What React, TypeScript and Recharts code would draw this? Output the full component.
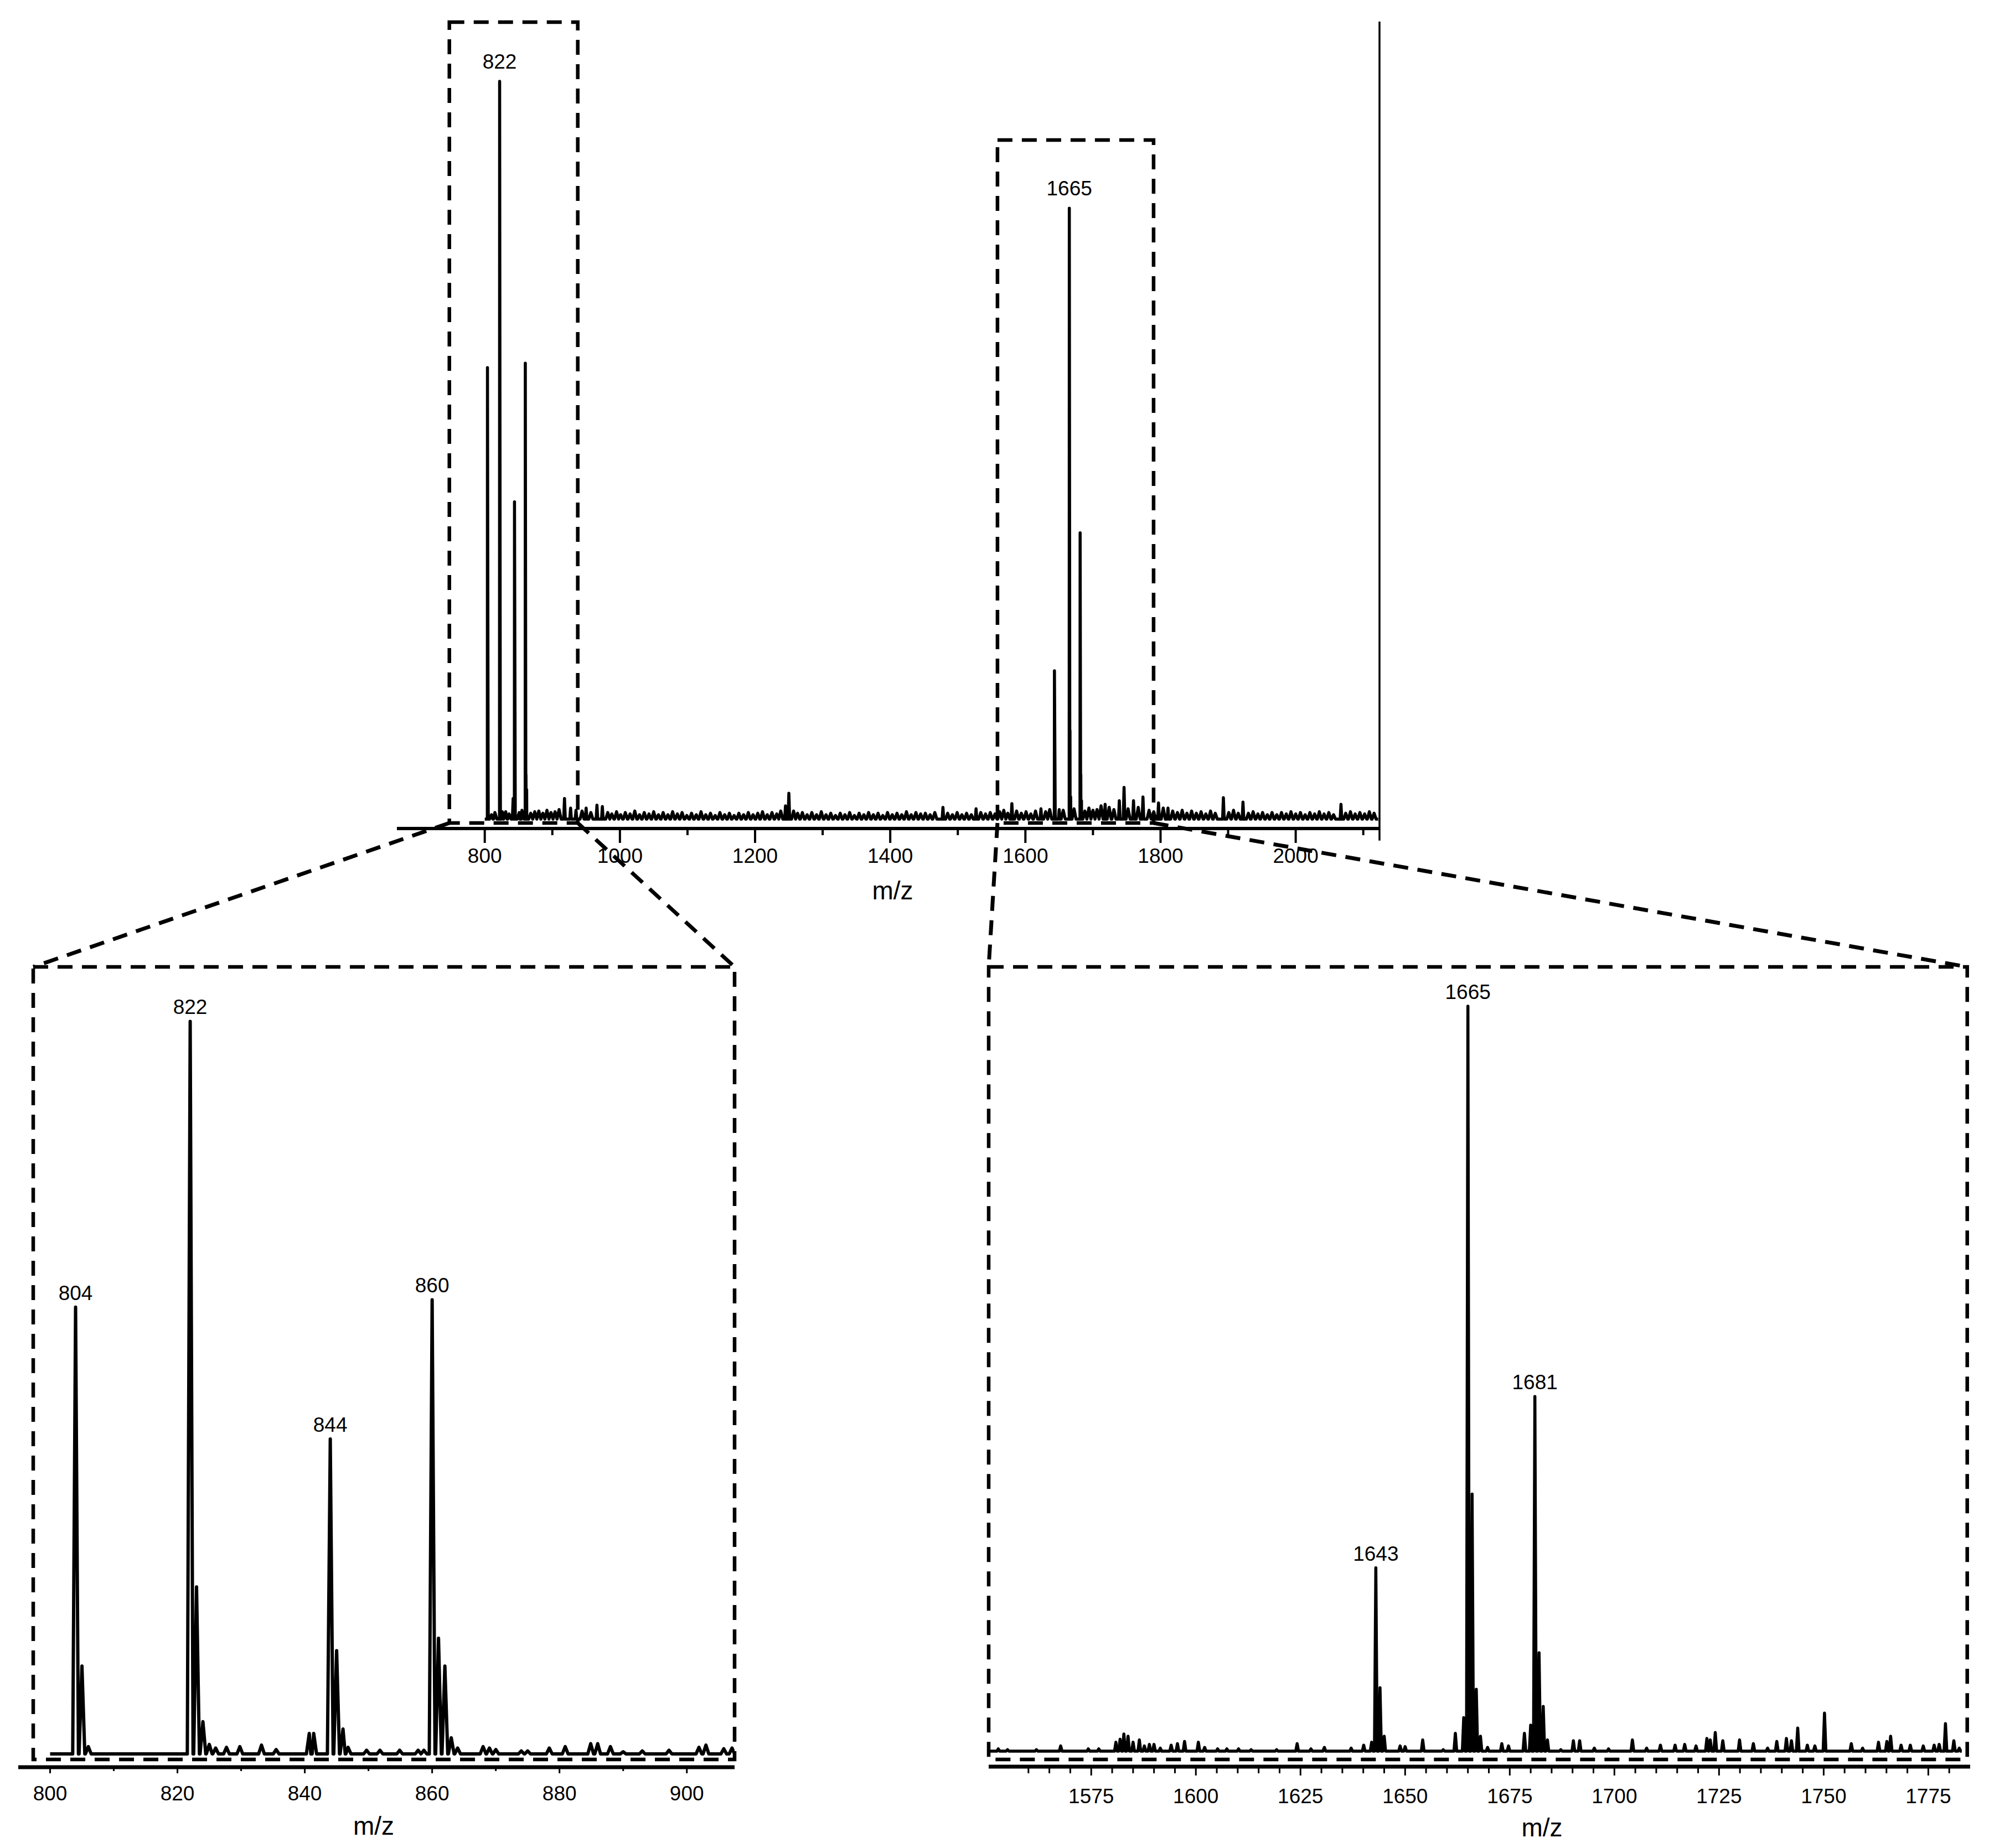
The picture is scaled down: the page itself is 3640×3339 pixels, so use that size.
import React from 'react';
import { LineChart, Line, XAxis, YAxis, ReferenceArea, ReferenceDot, ReferenceLine } from 'recharts';

const FONT = '"Liberation Sans", Arial, Helvetica, sans-serif';

// full scan, relative intensity (822 = 100)
const overviewPeaks: [number, number][] = [
  [804, 61.2], [805, 5.0], [822, 100], [823, 8.0], [826, 1.0], [842, 2.8], [844, 43.0], [845, 5.0],
  [860, 61.8], [861, 6.0], [862, 4.0], [918, 2.8], [927, 1.5], [935, 1.2], [950, 1.5], [966, 1.9],
  [974, 1.7], [1245, 1.8], [1250, 3.5], [1478, 1.6], [1527, 1.4], [1580, 2.1], [1623, 1.4],
  [1643, 20.1], [1644, 3.0], [1650, 1.3], [1665, 82.8], [1666, 12.0], [1667, 3.0], [1681, 38.8],
  [1682, 6.0], [1683, 2.5], [1718, 2.0], [1739, 2.5], [1746, 4.3], [1760, 2.5], [1774, 3.0],
  [1797, 2.2], [1811, 1.5], [1893, 2.9], [1922, 2.3], [2067, 2.0],
];
const overviewNoise: [number, number][] = [
  [810, 0.6], [815, 0.9], [831, 1.0], [836, 0.7], [851, 0.9], [855, 1.2], [868, 0.8], [874, 1.0],
  [880, 1.1], [886, 0.8], [892, 1.2], [898, 0.9], [904, 1.0], [910, 1.3], [944, 1.1], [957, 0.9],
  [982, 0.9], [988, 0.7], [995, 1.0], [1001, 0.6], [1008, 0.9], [1015, 0.7], [1022, 1.1], [1029, 0.6],
  [1036, 0.9], [1043, 0.7], [1050, 1.0], [1057, 0.6], [1064, 0.9], [1071, 0.6], [1078, 1.0], [1085, 0.7],
  [1092, 0.9], [1099, 0.5], [1106, 0.8], [1113, 0.6], [1120, 1.0], [1127, 0.6], [1134, 0.8], [1141, 0.5],
  [1148, 0.9], [1155, 0.6], [1162, 0.8], [1169, 0.5], [1176, 0.8], [1183, 0.6], [1190, 0.9], [1197, 0.6],
  [1204, 0.8], [1211, 1.0], [1218, 0.6], [1225, 0.9], [1232, 0.7], [1238, 1.1], [1257, 1.1], [1263, 0.8],
  [1270, 0.9], [1277, 0.6], [1284, 0.9], [1291, 0.6], [1298, 1.0], [1305, 0.6], [1312, 0.8], [1319, 0.5],
  [1326, 0.8], [1333, 0.6], [1340, 0.9], [1347, 0.5], [1354, 0.8], [1361, 0.6], [1368, 0.9], [1375, 0.6],
  [1382, 0.8], [1389, 0.5], [1396, 0.9], [1403, 0.6], [1410, 0.8], [1417, 0.6], [1424, 1.0], [1431, 0.6],
  [1438, 0.9], [1445, 0.7], [1452, 0.8], [1459, 0.6], [1466, 0.9], [1485, 0.8], [1492, 0.6], [1499, 0.9],
  [1506, 0.6], [1513, 0.8], [1520, 0.6], [1534, 0.9], [1541, 0.7], [1548, 0.9], [1555, 0.7], [1562, 1.0],
  [1568, 1.2], [1574, 0.8], [1587, 1.1], [1594, 0.8], [1601, 1.0], [1608, 0.7], [1615, 1.1], [1630, 1.0],
  [1636, 1.3], [1656, 1.2], [1672, 1.4], [1688, 1.1], [1694, 1.5], [1700, 1.2], [1706, 1.3], [1712, 1.8],
  [1724, 1.6], [1731, 1.3], [1752, 1.4], [1767, 1.6], [1783, 1.2], [1790, 1.0], [1804, 1.5], [1818, 1.1],
  [1825, 0.9], [1832, 1.2], [1839, 0.8], [1846, 1.1], [1853, 0.8], [1860, 1.0], [1867, 0.7], [1874, 1.1],
  [1881, 0.8], [1901, 0.9], [1908, 1.2], [1915, 0.8], [1930, 0.8], [1937, 1.0], [1944, 0.7], [1951, 0.9],
  [1958, 0.6], [1965, 0.9], [1972, 0.6], [1979, 0.9], [1986, 0.7], [1993, 1.0], [2000, 0.7], [2007, 0.9],
  [2014, 0.6], [2021, 0.9], [2028, 0.7], [2035, 1.0], [2042, 0.7], [2049, 0.9], [2056, 0.6], [2074, 0.8],
  [2081, 1.0], [2088, 0.7], [2095, 0.9], [2102, 0.7], [2109, 1.0], [2116, 0.8],
];
const overviewTicks = [800, 900, 1000, 1100, 1200, 1300, 1400, 1500, 1600, 1700, 1800, 1900, 2000, 2100];
const overviewTickLabels = [800, 1000, 1200, 1400, 1600, 1800, 2000];
const overviewLabels = [822, 1665];

// zoom 800-905
const lowPeaks: [number, number][] = [
  [804, 61.0], [805, 12.0], [806, 1.0], [822, 100], [823, 22.8], [824, 4.4], [825, 1.3], [826, 0.8],
  [827.7, 0.9], [829.8, 1.0], [833.2, 1.2], [835.5, 0.6], [840.7, 2.8], [841.4, 2.8], [844, 43.0],
  [845, 14.1], [846, 3.4], [846.8, 0.9], [849.7, 0.5], [851.8, 0.5], [854.9, 0.5], [857.8, 0.5],
  [858.7, 0.5], [860, 62.0], [861, 15.8], [862, 12.0], [863, 2.2], [864, 0.8], [868, 1.0], [869, 0.8],
  [870, 0.6], [874, 0.4], [875, 0.4], [878.4, 0.8], [880.9, 1.0], [884.9, 1.4], [886, 1.4], [888, 1.0],
  [890, 0.3], [893, 0.4], [897.2, 0.5], [901.9, 0.9], [903, 1.2], [905.8, 0.7], [907.1, 0.8],
];
const lowTicks = [800, 810, 820, 830, 840, 850, 860, 870, 880, 890, 900];
const lowTickLabels = [800, 820, 840, 860, 880, 900];
const lowLabels = [804, 822, 844, 860];

// zoom 1550-1785
const highPeaks: [number, number][] = [
  [1552.8, 0.3], [1555.0, 0.2], [1561.9, 0.2], [1567.7, 0.7], [1574.3, 0.3], [1576.8, 0.3], [1580.9, 1.2],
  [1581.9, 1.6], [1582.8, 2.3], [1583.8, 2.0], [1585.0, 1.2], [1586.5, 1.5], [1587.7, 0.7], [1588.9, 0.9],
  [1590.0, 0.9], [1591.5, 0.4], [1594.1, 0.8], [1595.6, 1.0], [1597.3, 1.3], [1600.6, 1.2], [1602.1, 0.5],
  [1605.2, 0.3], [1607.4, 0.3], [1610.2, 0.3], [1613.2, 0.2], [1619.3, 0.2], [1624.2, 1.0], [1627.5, 0.3],
  [1630.7, 0.5], [1637.1, 0.4], [1640.1, 0.8], [1642.0, 1.2], [1643.0, 24.6], [1644.0, 8.5], [1645.0, 2.0],
  [1648.8, 0.7], [1650.0, 0.6], [1654.2, 1.5], [1659.1, 0.2], [1662.0, 2.4], [1664.0, 4.5], [1665.0, 100],
  [1666.0, 34.5], [1667.0, 8.3], [1668.0, 2.0], [1669.7, 0.5], [1673.1, 1.0], [1674.7, 0.7], [1678.5, 2.4],
  [1680.0, 3.5], [1681.0, 47.6], [1682.0, 13.2], [1683.0, 6.0], [1684.0, 1.5], [1687.2, 0.2], [1690.2, 1.4],
  [1691.7, 1.4], [1695.2, 0.4], [1698.6, 0.3], [1704.3, 1.5], [1707.7, 0.4], [1711.0, 0.8], [1714.5, 0.8],
  [1716.8, 0.9], [1719.5, 0.7], [1722.1, 1.7], [1722.9, 1.5], [1724.1, 2.5], [1725.9, 1.4], [1729.9, 1.5],
  [1733.2, 1.0], [1736.6, 0.4], [1738.8, 1.3], [1741.1, 1.7], [1742.3, 1.4], [1743.8, 3.1], [1746.1, 0.8],
  [1747.9, 0.7], [1750.2, 5.1], [1756.6, 1.0], [1759.3, 0.4], [1763.1, 1.2], [1765.1, 1.3], [1766.0, 2.0],
  [1768.5, 0.8], [1770.7, 0.8], [1773.8, 0.7], [1776.4, 0.8], [1777.6, 0.9], [1779.1, 3.7], [1781.1, 1.4],
  [1782.4, 0.4],
];
const highTicks = [
  1560, 1565, 1570, 1575, 1580, 1585, 1590, 1595, 1600, 1605, 1610, 1615, 1620, 1625, 1630, 1635, 1640,
  1645, 1650, 1655, 1660, 1665, 1670, 1675, 1680, 1685, 1690, 1695, 1700, 1705, 1710, 1715, 1720, 1725,
  1730, 1735, 1740, 1745, 1750, 1755, 1760, 1765, 1770, 1775, 1780,
];
const highTickLabels = [1575, 1600, 1625, 1650, 1675, 1700, 1725, 1750, 1775];
const highLabels = [1643, 1665, 1681];

type Pt = { mz: number; h: number };

// turn stick list into a drawable trace (each feature a narrow spike off the baseline)
const trace = (feats: [number, number][], w: number, start: number, end: number, noise: [number, number][] = [], wn = 0) => {
  const pts: Pt[] = [{ mz: start, h: 0 }, { mz: end, h: 0 }];
  feats.forEach(([mz, h]) => pts.push({ mz: mz - w, h: 0 }, { mz, h }, { mz: mz + w, h: 0 }));
  noise.forEach(([mz, h]) => pts.push({ mz: mz - wn, h: 0 }, { mz, h }, { mz: mz + wn, h: 0 }));
  return pts.sort((a, b) => a.mz - b.mz);
};

// panel layout (page px) and axis domains
const TOP = { left: 0, top: 0, width: 3640, height: 1700, margin: { top: 39, right: 1148, bottom: 53, left: 717 }, axisH: 150, x: [670, 2124], y: [-1.275, 108.1] };
const LOW = { left: 0, top: 1650, width: 1400, height: 1689, margin: { top: 97, right: 73, bottom: 6, left: 33 }, axisH: 140, x: [795, 907.5], y: [-1.813, 107.44] };
const HIGH = { left: 1700, top: 1650, width: 1940, height: 1689, margin: { top: 97, right: 81, bottom: 7, left: 86 }, axisH: 140, x: [1550.5, 1785], y: [-2.08, 105.27] };

// dashed frames in data units: [x1, x2, yBottom, yTop]
const frameLowTop = [747.6, 937.6, -0.525, 108.03];
const frameHighTop = [1558.7, 1789.7, -0.525, 92.05];
const frameLow = [797.35, 907.5, -0.76, 107.44];
const frameHigh = [1550.5, 1784.3, -1.11, 105.27];

type Panel = typeof TOP;
const plotW = (L: Panel) => L.width - L.margin.left - L.margin.right;
const plotH = (L: Panel) => L.height - L.margin.top - L.margin.bottom - L.axisH;
const px = (L: Panel, v: number) => L.left + L.margin.left + ((v - L.x[0]) / (L.x[1] - L.x[0])) * plotW(L);
const py = (L: Panel, v: number) => L.top + L.margin.top + ((L.y[1] - v) / (L.y[1] - L.y[0])) * plotH(L);

const DASH = '27 17';

const makeTick = (labels: number[], majorLen: number, minorLen: number, labelDy: number, tw: number) => (props: any) => {
  const { x, y, payload } = props;
  const v = payload.value;
  const major = labels.includes(v);
  return (
    <g>
      <line x1={x} y1={y} x2={x} y2={y + (major ? majorLen : minorLen)} stroke="#000" strokeWidth={tw} />
      {major && (
        <text x={x} y={y + labelDy} textAnchor="middle" fontSize={37} fontFamily={FONT} fill="#000">
          {v}
        </text>
      )}
    </g>
  );
};

const AxisTitle = (props: any) => {
  const { viewBox, shift = 0, drop = 0 } = props;
  if (!viewBox) return null;
  return (
    <text x={viewBox.x + viewBox.width / 2 + shift} y={viewBox.y + drop} textAnchor="middle" fontSize={46} fontFamily={FONT} fill="#000">
      m/z
    </text>
  );
};

type SpecProps = {
  L: Panel;
  data: Pt[];
  ticks: number[];
  tick: any;
  axisWidth: number;
  lineWidth: number;
  labels: number[];
  peaks: [number, number][];
  labelOffset: number;
  frames: number[][];
  titleShift: number;
  titleDrop: number;
  children?: React.ReactNode;
};

const Spectrum = ({ L, data, ticks, tick, axisWidth, lineWidth, labels, peaks, labelOffset, frames, titleShift, titleDrop, children }: SpecProps) => (
  <div style={{ position: 'absolute', left: L.left, top: L.top, width: L.width, height: L.height }}>
    <LineChart width={L.width} height={L.height} data={data} margin={L.margin}>
      <XAxis
        dataKey="mz"
        type="number"
        domain={L.x}
        allowDataOverflow
        ticks={ticks}
        interval={0}
        height={L.axisH}
        tickSize={0}
        tickMargin={0}
        tickLine={false}
        tick={tick}
        axisLine={{ stroke: '#000', strokeWidth: axisWidth }}
        label={<AxisTitle shift={titleShift} drop={titleDrop} />}
      />
      <YAxis hide width={0} type="number" domain={L.y} allowDataOverflow />
      {frames.map((f, i) => (
        <ReferenceArea
          key={i}
          x1={f[0]}
          x2={f[1]}
          y1={f[2]}
          y2={f[3]}
          fill="none"
          fillOpacity={0}
          stroke="#000"
          strokeWidth={6.5}
          strokeDasharray={DASH}
          ifOverflow="visible"
        />
      ))}
      <Line
        type="linear"
        dataKey="h"
        stroke="#000"
        strokeWidth={lineWidth}
        strokeLinejoin="round"
        dot={false}
        activeDot={false}
        isAnimationActive={false}
      />
      {labels.map((m) => {
        const p = peaks.find((q) => q[0] === m);
        return (
          <ReferenceDot
            key={m}
            x={m}
            y={p ? p[1] : 0}
            r={1}
            fill="none"
            stroke="none"
            label={{ value: String(m), position: 'top', offset: labelOffset, fill: '#000', fontSize: 37, fontFamily: FONT }}
          />
        );
      })}
      {children}
    </LineChart>
  </div>
);

const overviewData = trace(overviewPeaks, 1.2, 800, 2122, overviewNoise, 3);
const lowData = trace(lowPeaks, 0.45, 800, 907.5);
const highData = trace(highPeaks, 0.33, 1550.9, 1783);

const connectors = [
  [px(TOP, frameLowTop[0]), py(TOP, frameLowTop[2]), px(LOW, frameLow[0]), py(LOW, frameLow[3])],
  [px(TOP, frameLowTop[1]), py(TOP, frameLowTop[2]), px(LOW, frameLow[1]), py(LOW, frameLow[3])],
  [px(TOP, frameHighTop[0]), py(TOP, frameHighTop[2]), px(HIGH, frameHigh[0]), py(HIGH, frameHigh[3])],
  [px(TOP, frameHighTop[1]), py(TOP, frameHighTop[2]), px(HIGH, frameHigh[1]), py(HIGH, frameHigh[3])],
];

export default function App() {
  return (
    <div style={{ position: 'absolute', left: 0, top: 0, width: 3640, height: 3339, background: '#fff', fontFamily: FONT }}>
      <Spectrum
        L={TOP}
        data={overviewData}
        ticks={overviewTicks}
        tick={makeTick(overviewTickLabels, 26, 12, 62, 4)}
        axisWidth={6}
        lineWidth={5.5}
        labels={overviewLabels}
        peaks={overviewPeaks}
        labelOffset={22}
        frames={[frameLowTop, frameHighTop]}
        titleShift={8}
        titleDrop={128}
      >
        <ReferenceLine
          segment={[{ x: TOP.x[1], y: -2.9 }, { x: TOP.x[1], y: TOP.y[1] }]}
          stroke="#000"
          strokeWidth={3.5}
          ifOverflow="visible"
        />
      </Spectrum>
      <Spectrum
        L={LOW}
        data={lowData}
        ticks={lowTicks}
        tick={makeTick(lowTickLabels, 11, 7, 60, 3)}
        axisWidth={7}
        lineWidth={6}
        labels={lowLabels}
        peaks={lowPeaks}
        labelOffset={12}
        frames={[frameLow]}
        titleShift={-5}
        titleDrop={122}
      />
      <Spectrum
        L={HIGH}
        data={highData}
        ticks={highTicks}
        tick={makeTick(highTickLabels, 16, 12, 66, 3)}
        axisWidth={7}
        lineWidth={5.5}
        labels={highLabels}
        peaks={highPeaks}
        labelOffset={12}
        frames={[frameHigh]}
        titleShift={113}
        titleDrop={126}
      />
      <svg width={3640} height={3339} style={{ position: 'absolute', left: 0, top: 0, pointerEvents: 'none' }}>
        {connectors.map((c, i) => (
          <line key={i} x1={c[0]} y1={c[1]} x2={c[2]} y2={c[3]} stroke="#000" strokeWidth={7} strokeDasharray={DASH} />
        ))}
      </svg>
    </div>
  );
}
